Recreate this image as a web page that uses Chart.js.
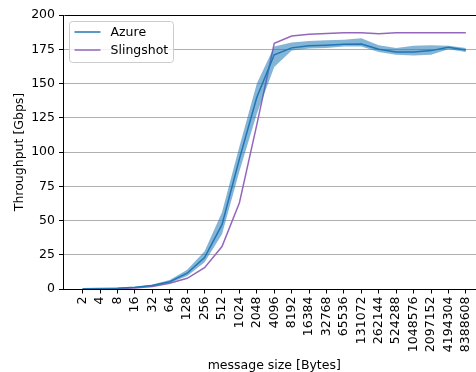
<!DOCTYPE html>
<html lang="en">
<head>
<meta charset="UTF-8">
<title>Throughput vs message size</title>
<script src="https://cdn.jsdelivr.net/npm/chart.js"></script>
<style>
  html, body { margin: 0; padding: 0; background: #fff; overflow: hidden; }
  #wrap { width: 490px; height: 372px; }
</style>
</head>
<body>
<div id="wrap"><canvas id="chart" width="490" height="372"></canvas></div>
<script>
// DATA
const sizes = ['2', '4', '8', '16', '32', '64', '128', '256', '512', '1024', '2048', '4096',
  '8192', '16384', '32768', '65536', '131072', '262144', '524288', '1048576', '2097152',
  '4194304', '8388608'];
const azureMean = [0.1, 0.3, 0.6, 1.2, 2.6, 5.3, 11.5, 23, 47, 95, 140, 171,
  176, 177.5, 178, 178.6, 178.8, 175, 173, 173, 174, 176.4, 174.5];
const azureMin = [0.05, 0.2, 0.5, 1.0, 2.2, 4.4, 9.5, 19.5, 40, 86, 128, 162,
  174, 175.5, 176, 177, 177, 173, 171, 170.5, 171, 175, 173];
const azureMax = [0.15, 0.4, 0.8, 1.5, 3.2, 6.5, 14, 27.5, 56, 104, 150, 177,
  180, 181, 181.5, 182, 183, 178, 176, 177.5, 178, 177.5, 176];
const slingshot = [0.05, 0.15, 0.35, 0.8, 1.8, 4.2, 7.8, 15.6, 31, 63, 120, 179.3,
  184.7, 185.9, 186.5, 187, 187, 186.3, 187, 187, 187, 187, 187];
const yTicks = [0, 25, 50, 75, 100, 125, 150, 175, 200];

const FONT = { family: "'DejaVu Sans', sans-serif", size: 12.5 };
const BLUE = '#1f77b4';
const PURPLE = '#9467bd';

const pts = arr => arr.map((v, i) => ({ x: i, y: v }));

// frame on top/right + matplotlib-style legend in the upper left
const frameAndLegend = {
  id: 'frameAndLegend',
  afterDraw(chart) {
    const { ctx, chartArea: a } = chart;
    ctx.save();
    ctx.strokeStyle = '#000';
    ctx.lineWidth = 1;
    ctx.beginPath();
    ctx.moveTo(Math.round(a.left) + 0.5, Math.round(a.top) + 0.5);
    ctx.lineTo(Math.round(a.right) + 0.5, Math.round(a.top) + 0.5);
    ctx.lineTo(Math.round(a.right) + 0.5, Math.round(a.bottom) + 0.5);
    ctx.stroke();

    const x = a.left + 6, y = a.top + 6.5, w = 104, h = 41;
    ctx.beginPath();
    ctx.roundRect(x, y, w, h, 3);
    ctx.fillStyle = 'rgba(255,255,255,0.8)';
    ctx.fill();
    ctx.strokeStyle = '#cccccc';
    ctx.stroke();

    const items = [['Azure', BLUE], ['Slingshot', PURPLE]];
    ctx.font = `${FONT.size}px ${FONT.family}`;
    ctx.textBaseline = 'middle';
    items.forEach(([label, color], i) => {
      const ly = y + 10.5 + i * 18;
      ctx.strokeStyle = color;
      ctx.lineWidth = 1.5;
      ctx.beginPath();
      ctx.moveTo(x + 5, ly);
      ctx.lineTo(x + 31, ly);
      ctx.stroke();
      ctx.fillStyle = '#000';
      ctx.fillText(label, x + 41, ly + 1);
    });
    ctx.restore();
  }
};

new Chart(document.getElementById('chart'), {
  type: 'line',
  data: {
    datasets: [
      { label: 'azureMax', data: pts(azureMax), borderWidth: 0, pointRadius: 0,
        backgroundColor: 'rgba(31,119,180,0.55)', fill: '+1' },
      { label: 'azureMin', data: pts(azureMin), borderWidth: 0, pointRadius: 0, fill: false },
      { label: 'Azure', data: pts(azureMean), borderColor: BLUE, borderWidth: 1.5,
        pointRadius: 0, fill: false },
      { label: 'Slingshot', data: pts(slingshot), borderColor: PURPLE, borderWidth: 1.5,
        pointRadius: 0, fill: false }
    ]
  },
  options: {
    responsive: false,
    animation: false,
    layout: { padding: { top: 15, right: 5, left: 12, bottom: 0 } },
    elements: { line: { tension: 0 } },
    plugins: { legend: { display: false }, tooltip: { enabled: false } },
    scales: {
      x: {
        type: 'linear',
        min: -1.1,
        max: 23.1,
        afterBuildTicks: axis => { axis.ticks = sizes.map((s, i) => ({ value: i })); },
        afterFit: axis => { axis.height = 83; },
        ticks: {
          callback: v => sizes[v],
          minRotation: 90, maxRotation: 90, autoSkip: false,
          padding: 3, color: '#000', font: FONT
        },
        grid: { drawOnChartArea: false, drawTicks: true, tickLength: 4.5, tickColor: '#000' },
        border: { display: true, color: '#000', width: 1 },
        title: { display: true, text: 'message size [Bytes]', color: '#000', font: FONT,
          padding: { top: 0, bottom: -1.5 } }
      },
      y: {
        min: 0,
        max: 200,
        afterBuildTicks: axis => { axis.ticks = yTicks.map(v => ({ value: v })); },
        afterFit: axis => { axis.width = 51.5; },
        ticks: { padding: 4, color: '#000', font: FONT },
        grid: { color: '#b0b0b0', lineWidth: 1, drawTicks: true, tickLength: 4.5, tickColor: '#000' },
        border: { display: true, color: '#000', width: 1 },
        title: { display: true, text: 'Throughput [Gbps]', color: '#000', font: FONT,
          padding: { top: 0, bottom: 4 } }
      }
    }
  },
  plugins: [frameAndLegend]
});
</script>
</body>
</html>
